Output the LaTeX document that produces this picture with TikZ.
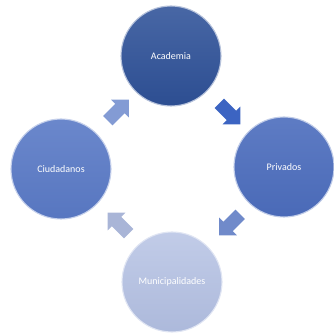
\documentclass[tikz,border=0pt]{standalone}
\usepackage{fontspec}
\setmainfont{Carlito}
\usetikzlibrary{calc, positioning, shapes.arrows}

\definecolor{acadblue}{HTML}{2F5299}
\definecolor{privblue}{HTML}{4C6DBD}
\definecolor{ciudblue}{HTML}{5A7AC6}
\definecolor{munblue}{HTML}{B2BFE2}
\definecolor{flowblue}{HTML}{3C64C2}

\begin{document}
\begin{tikzpicture}[
    x=1pt, y=1pt,
    stage/.style={circle, minimum size=100pt, inner sep=0pt, text=white, line width=1.1pt, font=\fontsize{10}{12}\selectfont},
    flow/.style={single arrow, minimum height=30pt, inner sep=6.5pt, single arrow head extend=6pt},
]
    \useasboundingbox (0,0) rectangle (334,335);

    % Stages
    \node[stage, top color=acadblue!88!white, bottom color=acadblue!95!black, draw=acadblue!35!white] (acad) at (171,279) {Academia};
    \node[stage, top color=privblue!90!white, bottom color=privblue!97!black, draw=privblue!35!white] (priv) at (284,168) {Privados};
    \node[stage, top color=munblue!80!white, bottom color=munblue!97!black, draw=munblue!40!white] (mun) at (172,53) {Municipalidades};
    \node[stage, top color=ciudblue!90!white, bottom color=ciudblue!97!black, draw=ciudblue!35!white] (ciud) at (61,166) {Ciudadanos};

    % Cycle arrows
    \node[flow, fill=flowblue, rotate=-45] (a2p) at ($(acad)!0.5!(priv)$) {};
    \node[flow, fill=privblue!80!white, rotate=-135] (p2m) at ($(priv)!0.5!(mun)+(4,2)$) {};
    \node[flow, fill=munblue!95!black, rotate=135] (m2c) at ($(mun)!0.5!(ciud)+(4,0)$) {};
    \node[flow, fill=ciudblue!75!white, rotate=45] (c2a) at ($(ciud)!0.5!(acad)$) {};

\end{tikzpicture}
\end{document}
